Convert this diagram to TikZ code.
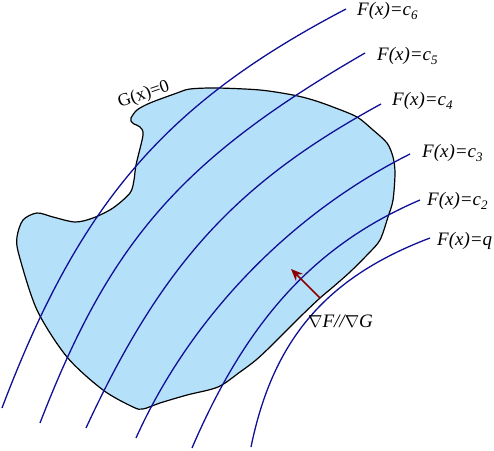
\documentclass[tikz,border=0pt]{standalone}
\usepackage{fontspec}
\setmainfont{Liberation Serif}
\usetikzlibrary{arrows.meta}
\definecolor{blobfill}{RGB}{181,224,250}
\definecolor{lvl}{RGB}{16,16,150}
\definecolor{arr}{RGB}{139,0,0}
\newcommand{\flab}[1]{{\itshape F(x)=#1}}
\newcommand{\csub}[1]{{\itshape c\raisebox{-4pt}{\fontsize{13}{13}\selectfont #1}}}
\begin{document}
\begin{tikzpicture}[x=1pt,y=-1pt,
  lvlcurve/.style={draw=lvl, line width=1.3pt},
  outline/.style={draw=black, line width=1.2pt, fill=blobfill},
  flabel/.style={anchor=base west, inner sep=0pt, font=\fontsize{19}{22}\selectfont},
  glabel/.style={anchor=base west, inner sep=0pt, font=\fontsize{18}{22}\selectfont}]
\useasboundingbox (0,0) rectangle (494,450);
% feasible region G(x)=0
\path[outline] plot[smooth cycle, tension=0.5] coordinates {
 (131,118) (137,110) (150,103) (177,93) (190,89) (217,88) (260,90) (293,95)
 (313,100) (333,107) (357,117) (373,130) (387,143) (393,157) (395,173)
 (393,200) (388,217) (380,240) (368,254) (350,272) (333,287) (320,298)
 (300,317) (272,345) (256,360) (240,372) (218,387) (187,395) (160,403) (143,409)
 (133,407) (103,390) (67,357) (37,310) (19,255) (17,237) (23,220) (37,213)
 (53,217) (75,222) (93,218) (113,208) (130,193) (134,180) (136,165) (143,135)
 (140,127) (134,124) (131,121)};
% level curves
\coordinate (c6a) at (2,408);   \coordinate (c6b) at (346,9);
\coordinate (c5a) at (40,423);  \coordinate (c5b) at (365,53);
\coordinate (c4a) at (86,428);  \coordinate (c4b) at (381,104);
\coordinate (c3a) at (136,438); \coordinate (c3b) at (410,154);
\coordinate (c2a) at (192,448); \coordinate (c2b) at (420,200);
\coordinate (cqa) at (251,447); \coordinate (cqb) at (430,238);
\draw[lvlcurve] (c6a) .. controls (80,202) and (166,103) .. (c6b);
\draw[lvlcurve] (c5a) .. controls (110,242) and (180,160) .. (c5b);
\draw[lvlcurve] (c4a) .. controls (162,264) and (236,183) .. (c4b);
\draw[lvlcurve] (c3a) .. controls (190,318) and (290,214) .. (c3b);
\draw[lvlcurve] (c2a) .. controls (247,320) and (315,245) .. (c2b);
\draw[lvlcurve] (cqa) .. controls (273,339) and (327,277) .. (cqb);
% labels
\node[flabel] (l6) at (357,15) {\flab{\csub{6}}};
\node[flabel] (l5) at (377,60) {\flab{\csub{5}}};
\node[flabel] (l4) at (392,105) {\flab{\csub{4}}};
\node[flabel] (l3) at (422,157) {\flab{\csub{3}}};
\node[flabel] (l2) at (427,205) {\flab{\csub{2}}};
\node[flabel] (lq) at (437,245) {\flab{q}};
\node[glabel, rotate=19] (gl) at (120,108) {G(x)=0};
\node[flabel] (grad) at (308,327) {$\nabla${\itshape F//}$\nabla${\itshape G}};
% gradient arrow
\coordinate (tail) at (320,298);
\coordinate (tip) at (291,269);
\draw[arr, line width=1.5pt, -{Stealth[length=12pt,width=10pt,inset=4pt]}] (tail) -- (tip);
\end{tikzpicture}
\end{document}
